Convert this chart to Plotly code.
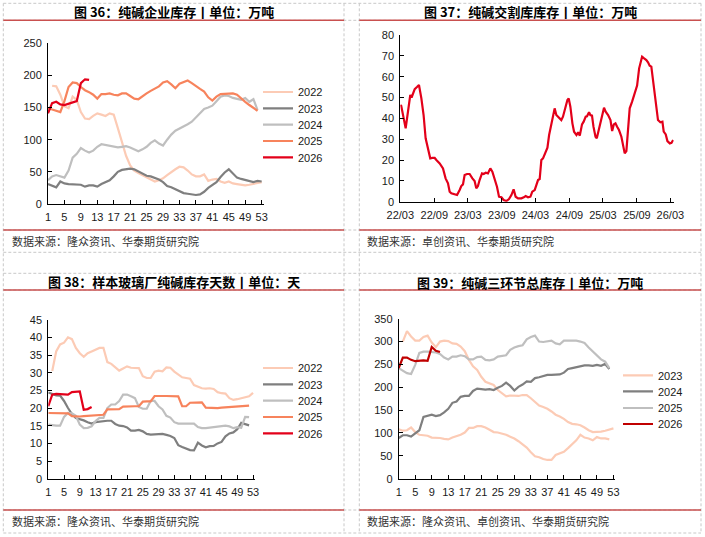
import plotly.graph_objects as go

W, H = 705, 537

# ---------------- data ----------------
weeks = list(range(1, 54))

# Fig 36: enterprise inventory (10k t)
p1_2022 = [None, 184, 183, 170, 152, 149, 167, 162, 143, 133, 132, 137, 141, 139, 137, 141, 139, 118, 95, 75,
           60, 52, 48, 45, 42, 38, 35, 37, 40, 45, 50, 54, 58, 57, 52, 46, 43, 43, 46, 36,
           38, 39, 35, 33, 35, 32, 31, 30, 29, 30, 31, 32, 34]
p1_2023 = [31, 28, 26, 35, 32, 31, 31, 31, 30, 27, 29, 29, 27, 31, 34, 37, 43, 50, 53, 54,
           55, 54, 51, 47, 44, 43, 41, 38, 34, 28, 26, 23, 19, 17, 16, 15, 14, 15, 19, 25,
           29, 34, 42, 49, 54, 47, 41, 39, 37, 35, 34, 36, 35]
p1_2024 = [37, 43, 45, 43, 41, 52, 72, 78, 87, 83, 80, 83, 89, 93, 92, 90, 89, 88, 89, 90,
           88, 85, 82, 85, 89, 95, 99, 94, 91, 100, 108, 114, 117, 121, 124, 128, 135, 141, 148, 150,
           153, 160, 167, 169, 168, 165, 163, 162, 165, 159, 163, 146]
p1_2025 = [149, 147, 144, 143, 160, 182, 189, 188, 182, 177, 174, 170, 164, 171, 171, 172, 170, 169, 172, 172,
           168, 164, 163, 168, 172, 176, 179, 183, 189, 191, 186, 180, 187, 190, 192, 188, 183, 179, 175, 166,
           161, 167, 171, 171, 171, 172, 170, 164, 159, 154, 150, 145]
p1_2026 = [141, 157, 159, 155, 154, 156, 159, 160, 188, 194, 193]

# Fig 37: delivery warehouse inventory (10k t)
p2_dates = ["2022-03-01", "2022-03-06", "2022-03-30", "2022-04-24", "2022-05-01", "2022-05-18", "2022-05-30",
            "2022-06-10", "2022-06-23", "2022-07-05", "2022-07-16", "2022-07-29", "2022-08-10", "2022-08-21",
            "2022-09-03", "2022-09-12", "2022-09-30", "2022-10-18", "2022-11-01", "2022-11-14", "2022-11-23",
            "2022-12-02", "2022-12-20", "2023-01-02", "2023-01-16", "2023-01-25", "2023-02-03", "2023-02-12",
            "2023-02-25", "2023-03-11", "2023-03-26", "2023-04-07", "2023-04-16", "2023-04-25", "2023-05-04",
            "2023-05-17", "2023-05-26", "2023-06-06", "2023-06-18", "2023-07-01", "2023-07-12", "2023-07-25",
            "2023-08-06", "2023-08-17", "2023-08-30", "2023-09-11", "2023-09-26", "2023-10-10", "2023-10-23",
            "2023-11-04", "2023-11-15", "2023-11-28", "2023-12-16", "2023-12-29", "2024-01-08", "2024-01-21",
            "2024-02-03", "2024-02-13", "2024-02-26", "2024-03-06", "2024-03-15", "2024-03-24", "2024-04-02",
            "2024-04-11", "2024-04-24", "2024-05-05", "2024-05-14", "2024-05-26", "2024-06-04", "2024-06-13",
            "2024-06-22", "2024-07-07", "2024-07-19", "2024-07-28", "2024-08-10", "2024-08-21", "2024-08-28",
            "2024-09-06", "2024-09-17", "2024-09-26", "2024-10-09", "2024-10-18", "2024-10-27", "2024-11-08",
            "2024-11-17", "2024-11-28", "2024-12-05", "2024-12-16", "2024-12-23", "2025-01-01", "2025-01-09",
            "2025-01-20", "2025-01-27", "2025-02-05", "2025-02-16", "2025-02-26", "2025-03-07", "2025-03-16",
            "2025-03-29", "2025-04-11", "2025-04-20", "2025-04-29", "2025-05-08", "2025-05-17", "2025-05-27",
            "2025-06-09", "2025-06-22", "2025-06-27", "2025-07-06", "2025-07-15", "2025-07-24", "2025-08-06",
            "2025-08-15", "2025-08-26", "2025-09-02", "2025-09-13", "2025-09-20", "2025-09-29", "2025-10-10",
            "2025-10-22", "2025-10-31", "2025-11-09", "2025-11-18", "2025-11-27", "2025-12-06", "2025-12-15",
            "2025-12-24", "2026-01-06", "2026-01-17", "2026-01-24", "2026-02-04", "2026-02-13", "2026-02-26",
            "2026-03-07", "2026-03-16"]
p2_vals = [46.4, 46, 35.2, 51.2, 50, 54, 55, 56, 49.6, 41.6, 30.4, 25.6, 20.8, 21, 21, 20, 18.4, 16, 11.2, 8.8,
           4.8, 4, 3.7, 3.2, 5.6, 7.5, 8.3, 12.8, 13.3, 13.3, 11.2, 9.9, 6.4, 7.5, 10.4, 13.6, 13.3, 13.9, 13.6,
           16, 14.4, 11.2, 7.2, 2.4, 2.1, 0.8, 0.3, 1.3, 3.2, 5.9, 2.4, 1.6, 1.6, 2.1, 2.7, 2.1, 2.4, 4.8, 5.6,
           8, 10.4, 10.9, 20, 20.8, 23.2, 25.9, 32, 37.6, 42.4, 44.8, 41.6, 40.5, 39.2, 40.8, 45.6, 48.8, 49.6,
           45.6, 37.6, 33.6, 32, 33.3, 31.7, 37.1, 38.4, 40.8, 41, 42.9, 41.6, 41.3, 36, 31.2, 30.4, 33.9, 37.6,
           40.8, 45.1, 43.2, 41.6, 39.2, 33.9, 37.1, 37.6, 36, 34.4, 31.2, 24.8, 23.2, 24.3, 33.6, 44.8, 48,
           50.4, 53.6, 55.7, 64, 66.9, 69.6, 68.8, 68, 66.9, 65.3, 64.8, 58.4, 52.8, 45.6, 39.2, 38.1, 38.4,
           33.6, 32.3, 29.1, 28, 28.3, 29.6]

# Fig 38: glass plant soda ash inventory days
p3_2022 = [None, 30.5, 36, 38, 38.5, 40, 39.5, 37, 35.5, 34.5, 35.5, 36, 36.5, 37, 37, 33, 32.5, 31.5, 30.6, 31.2,
           31.8, 31.4, 31.3, 31.3, 29, 28.5, 28.5, 30.3, 30.6, 30.4, 31.5, 31.4, 30.3, 29.5, 28.7, 28.5, 28.3, 26.5,
           26, 25.6, 25.5, 25.6, 25.4, 24.5, 24.2, 24.1, 22.8, 22.3, 22.5, 22.8, 23, 23.3, 24.3]
p3_2023 = [24.4, 23.9, 23.6, 23.5, 22, 20, 18.3, 17.2, 16.9, 16.5, 16, 15.6, 16, 16.2, 16.3, 16.4, 16.4, 15.5,
           15, 14.9, 14.5, 13.6, 13.6, 13.8, 13.4, 12.7, 12.5, 12.5, 12.7, 12.7, 12.4, 12.1, 11.5, 9.5, 9, 8.5,
           8.1, 8, 10.2, 9.4, 8.9, 9.2, 9.3, 10, 10.4, 12, 12.8, 13.1, 14, 15.8, 15.4, 15.1]
p3_2024 = [15.3, 15.1, 15, 15, 17.5, 18.6, 18.5, 17.8, 15.3, 14.3, 14.4, 14.8, 16.3, 17.2, 17.2, 20, 21, 21, 22,
           23.8, 23.8, 23.3, 22.8, 20.3, 19.8, 19.8, 22, 22, 20.5, 19.6, 17.8, 17.3, 16, 15.6, 15.6, 15.6, 15.6,
           15.6, 14.6, 14.3, 14.3, 14.4, 14.6, 14.6, 14.7, 15, 14.8, 14.3, 14.6, 14.4, 17.5, 17.4]
p3_2025 = [18.6, 18.6, 18.6, 18.6, 18.6, 18.5, 17.7, 17.6, 17.6, 17.7, 17.8, 18, 18.1, 18.1, 18.1, 19.6, 19.7,
           19.7, 19.7, 20.4, 20.5, 20.5, 20.5, 20.5, 21.8, 21.9, 21.9, 23.4, 23.5, 23.4, 23.4, 23.4, 23.3, 23.3,
           20.5, 20.5, 21.5, 21.6, 21.6, 21.6, 20.1, 20, 20, 20, 20.1, 20.2, 20.3, 20.4, 20.5, 20.6, 20.7, 20.7]
p3_2026 = [20.5, 23.8, 24, 24, 23.8, 23.8, 24.5, 24.7, 24.7, 19.5, 19.7, 20.3]

# Fig 39: three-link total inventory (10k t)
p4_2022 = [None, 300, 323, 311, 302, 302, 310, 313, 298, 288, 300, 302, 301, 296, 295, 289, 279, 260, 246, 238,
           223, 212, 208, 205, 194, 186, 180, 182, 182, 181, 183, 183, 176, 167, 160, 157, 153, 147, 140, 136,
           131, 124, 120, 119, 117, 112, 106, 102, 102, 103, 105, 107, 110]
p4_2023 = [108, 105, 106, 112, 102, 96, 95, 94, 90, 90, 89, 87, 86, 90, 93, 96, 101, 111, 111, 115,
           115, 112, 107, 102, 101, 99, 96, 92, 88, 82, 75, 68, 58, 49, 47, 43, 41, 41, 52, 56,
           59, 67, 75, 84, 96, 90, 88, 84, 91, 88, 88, 86]
p4_2024 = [89, 95, 95, 92, 99, 106, 135, 138, 140, 137, 139, 145, 153, 166, 169, 179, 181, 181, 192, 197,
           196, 195, 196, 194, 199, 203, 210, 203, 193, 201, 206, 213, 212, 220, 222, 225, 227, 227, 227, 228,
           232, 240, 242, 244, 246, 248, 248, 247, 249, 247, 251, 240]
p4_2025 = [242, 236, 231, 229, 249, 275, 278, 278, 277, 276, 273, 265, 261, 267, 267, 270, 268, 261, 261, 266,
           267, 260, 259, 261, 267, 268, 270, 282, 287, 290, 292, 305, 310, 313, 300, 299, 300, 302, 296, 294,
           302, 302, 302, 302, 300, 297, 287, 278, 269, 261, 256, 242]
p4_2026 = [242, 265, 265, 260, 257, 258, 259, 258, 288, 280, 277]

week_ticks = list(range(1, 54, 4))

titles = ["图 36：纯碱企业库存丨单位：万吨", "图 37：纯碱交割库库存丨单位：万吨",
          "图 38：样本玻璃厂纯碱库存天数丨单位：天", "图 39：纯碱三环节总库存丨单位：万吨"]
sources = ["数据来源：隆众资讯、华泰期货研究院", "数据来源：卓创资讯、华泰期货研究院",
           "数据来源：隆众资讯、华泰期货研究院", "数据来源：隆众资讯、卓创资讯、华泰期货研究院"]

# ---------------- styles ----------------
C22 = "#FCCBB5"
C23 = "#7F7F7F"
C24 = "#BFBFBF"
C25 = "#F7835C"
C26 = "#E3001A"
C26b = "#C00000"
LW = 2.2
FONT = "Liberation Sans, Arial, sans-serif"
CJK = "Noto Sans CJK SC, sans-serif"


def px(x):
    return x / W


def py(y):
    return 1 - y / H


fig = go.Figure()
legend_defs = {}
leg_common = dict(bgcolor="rgba(0,0,0,0)", borderwidth=0, xanchor="left", yanchor="middle",
                  font=dict(family=FONT, size=11, color="#1a1a1a"), itemwidth=30)


def add(x, y, name, color, xa, ya, leg_pos=None):
    kw = dict(showlegend=False)
    if leg_pos is not None:
        key = "legend" if not legend_defs else "legend%d" % (len(legend_defs) + 1)
        legend_defs[key] = dict(leg_common, x=px(leg_pos[0]), y=py(leg_pos[1]))
        kw = dict(showlegend=True, legend=key)
    fig.add_trace(go.Scatter(x=x, y=y, name=name, mode="lines",
                             line=dict(color=color, width=LW),
                             xaxis=xa, yaxis=ya, connectgaps=False, hoverinfo="skip", **kw))


# panel 1
LX1 = 258
add(weeks, p1_2022, "2022", C22, "x", "y", (LX1, 92))
add(weeks, p1_2023, "2023", C23, "x", "y", (LX1, 108.3))
add(weeks, p1_2024, "2024", C24, "x", "y", (LX1, 124.7))
add(weeks, p1_2025, "2025", C25, "x", "y", (LX1, 141))
add(weeks, p1_2026, "2026", C26, "x", "y", (LX1, 157.3))
# panel 2
add(p2_dates, p2_vals, "交割库", C26, "x2", "y2")
# panel 3
LX3 = 258
add(weeks, p3_2022, "2022", C22, "x3", "y3", (LX3, 368))
add(weeks, p3_2023, "2023", C23, "x3", "y3", (LX3, 384.3))
add(weeks, p3_2024, "2024", C24, "x3", "y3", (LX3, 400.7))
add(weeks, p3_2025, "2025", C25, "x3", "y3", (LX3, 417))
add(weeks, p3_2026, "2026", C26, "x3", "y3", (LX3, 433.3))
# panel 4
LX4 = 618
add(weeks, p4_2022, "2022", C22, "x4", "y4")
add(weeks, p4_2023, "2023", C22, "x4", "y4", (LX4, 375.3))
add(weeks, p4_2024, "2024", C23, "x4", "y4", (LX4, 391.3))
add(weeks, p4_2025, "2025", C24, "x4", "y4", (LX4, 408))
add(weeks, p4_2026, "2026", C26b, "x4", "y4", (LX4, 424))

axis_common = dict(showline=True, linecolor="black", linewidth=1, ticks="inside", ticklen=4,
                   tickcolor="black", tickwidth=1, showgrid=False, zeroline=False, automargin=False,
                   ticklabelstandoff=3,
                   tickfont=dict(family=FONT, size=11, color="#1a1a1a"), fixedrange=True)


def xa_week(domain, rng):
    return dict(axis_common, domain=domain, range=rng, tickmode="array", tickvals=week_ticks,
                ticktext=[str(t) for t in week_ticks])


def ya(domain, rng, dt, anchor):
    return dict(axis_common, domain=domain, range=rng, dtick=dt, tick0=0, anchor=anchor)


layout = dict(
    width=W, height=H, margin=dict(l=0, r=0, t=0, b=0, pad=0, autoexpand=False),
    paper_bgcolor="white", plot_bgcolor="white",
    xaxis=dict(xa_week([px(48), px(263.5)], [1, 53.45]), anchor="y"),
    yaxis=ya([py(204), py(43.3)], [0, 250], 50, "x"),
    xaxis2=dict(axis_common, domain=[px(400.3), px(673.7)], range=["2022-03-01", "2026-03-19"],
                type="date", tickformat="%y/%m", dtick="M6", tick0="2022-03-01", anchor="y2"),
    yaxis2=ya([py(201.7), py(35)], [0, 80], 10, "x2"),
    xaxis3=dict(xa_week([px(48.3), px(255)], [1, 53.5]), anchor="y3"),
    yaxis3=ya([py(478.7), py(319.7)], [0, 45], 5, "x3"),
    xaxis4=dict(xa_week([px(398.7), px(615.3)], [1, 53.45]), anchor="y4"),
    yaxis4=ya([py(478.7), py(318.7)], [0, 350], 50, "x4"),
    showlegend=True,
)
layout.update(legend_defs)
fig.update_layout(**layout)

# ---------- frame: dashed table lines and red rules ----------
GREY = "#C8C8C8"
RED = "#C9504F"
xl, xm1, xm2, xr = 3.3, 344, 359.3, 701
shapes = []
for yy in [3.3, 20.3, 230, 252.3, 273.3, 290, 510, 533]:
    shapes.append(dict(type="line", xref="paper", yref="paper", x0=px(xl), x1=px(xr), y0=py(yy), y1=py(yy),
                       line=dict(color=GREY, width=1, dash="3px,2px")))
for xx in [xl, xm1, xm2, xr]:
    shapes.append(dict(type="line", xref="paper", yref="paper", x0=px(xx), x1=px(xx), y0=py(3.3), y1=py(533),
                       line=dict(color=GREY, width=1, dash="3px,2px")))
for yy in [20.3, 230, 290, 510]:
    for a, b in [(xl, xm1), (xm2, xr)]:
        shapes.append(dict(type="line", xref="paper", yref="paper", x0=px(a), x1=px(b), y0=py(yy), y1=py(yy),
                           line=dict(color=RED, width=1.5)))
fig.update_layout(shapes=shapes)

annotations = []
title_pos = [(173.5, 12), (530, 12), (173.5, 281.5), (530, 282)]
for t, (cx, cy) in zip(titles, title_pos):
    annotations.append(dict(text="<b>" + t + "</b>", xref="paper", yref="paper", x=px(cx), y=py(cy),
                            xanchor="center", yanchor="middle", showarrow=False,
                            font=dict(family=CJK, size=13, color="black")))
src_pos = [(10, 240.5), (365, 240.5), (10, 520.5), (365, 520.5)]
for s, (sx, sy) in zip(sources, src_pos):
    annotations.append(dict(text=s, xref="paper", yref="paper", x=px(sx), y=py(sy),
                            xanchor="left", yanchor="middle", showarrow=False,
                            font=dict(family=CJK, size=11, color="#333333")))
fig.update_layout(annotations=annotations)

fig.write_html("out.html", config=dict(displayModeBar=False, staticPlot=True))
